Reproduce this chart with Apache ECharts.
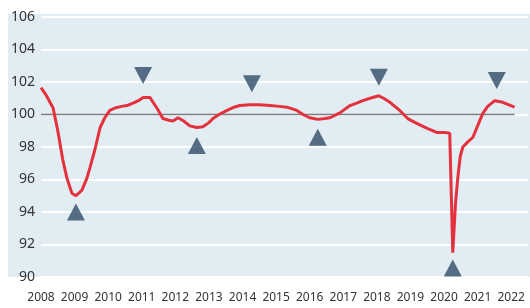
<!DOCTYPE html>
<html><head><meta charset="utf-8">
<script src="https://cdn.jsdelivr.net/npm/echarts@6/dist/echarts.min.js"></script>
<style>html,body{margin:0;padding:0;background:#fff}#c{width:530px;height:308px}</style>
</head><body><div id="c"></div>
<script>
var years = [2008.0,2008.15,2008.36,2008.5,2008.65,2008.77,2008.92,2009.04,2009.22,2009.37,2009.46,2009.6,2009.76,2009.9,2010.05,2010.2,2010.4,2010.56,2010.74,2010.9,2011.04,2011.24,2011.45,2011.63,2011.8,2011.93,2012.08,2012.25,2012.43,2012.64,2012.82,2013.0,2013.12,2013.3,2013.54,2013.75,2013.92,2014.22,2014.5,2014.82,2015.1,2015.32,2015.62,2015.8,2016.0,2016.24,2016.45,2016.6,2016.9,2017.2,2017.4,2017.58,2017.8,2018.06,2018.2,2018.39,2018.68,2018.92,2019.1,2019.34,2019.55,2019.78,2020.0,2020.17,2020.26,2020.34,2020.41,2020.48,2020.56,2020.7,2020.86,2021.0,2021.15,2021.3,2021.51,2021.75,2022.1];
var values = [101.65,101.2,100.4,99.0,97.2,96.1,95.15,95.0,95.35,96.1,96.75,97.8,99.2,99.8,100.25,100.4,100.5,100.55,100.7,100.85,101.05,101.05,100.4,99.75,99.65,99.6,99.8,99.6,99.3,99.2,99.25,99.5,99.75,100.0,100.25,100.45,100.55,100.6,100.6,100.55,100.5,100.45,100.25,100.0,99.8,99.7,99.75,99.8,100.1,100.55,100.7,100.85,101.0,101.15,101.0,100.75,100.25,99.75,99.55,99.3,99.1,98.9,98.9,98.85,91.5,94.5,96.1,97.4,98.0,98.3,98.6,99.3,100.05,100.5,100.85,100.75,100.45];
var troughX = [2009.04,2012.64,2016.24,2020.26];
var troughY = [94.0,98.1,98.6,90.55];
var peakX = [2011.04,2014.28,2018.06,2021.57];
var peakY = [102.4,101.9,102.3,102.1];
var refX = [2008.0,2022.1];
var refY = [100,100];
var yTicks = {min:90,max:106,step:2};
var xTicks = {min:2008,max:2022};

function zip(a,b){return a.map(function(v,i){return [v,b[i]];});}

var chart = echarts.init(document.getElementById('c'));
chart.setOption({
  animation:false,
  graphic:[{type:'rect',left:8,top:14,shape:{width:522,height:263},style:{fill:'#e2ecf3'},z:-10,silent:true}],
  grid:{left:41,right:2,top:17,bottom:31},
  xAxis:{type:'value',min:xTicks.min,max:xTicks.max+0.5,interval:1,
    splitLine:{show:false},axisLine:{show:false},axisTick:{show:false},
    axisLabel:{showMaxLabel:false,margin:15,fontSize:12,color:'#333',fontFamily:'Noto Sans',
      formatter:function(v){return (Math.abs(v-Math.round(v))<1e-6 && v<=xTicks.max)?String(Math.round(v)):'';}}},
  yAxis:{type:'value',min:yTicks.min,max:yTicks.max,interval:yTicks.step,
    axisLine:{show:false},axisTick:{show:false},
    splitLine:{lineStyle:{color:'#ffffff',width:2}},
    axisLabel:{margin:6,fontSize:14,color:'#333',fontFamily:'Noto Sans'}},
  series:[
    {type:'line',data:zip(refX,refY),symbol:'none',lineStyle:{color:'#7d7d7d',width:1.5},z:2},
    {type:'line',data:zip(years,values),symbol:'none',lineStyle:{color:'#e3323e',width:3},z:3},
    {type:'scatter',data:zip(troughX,troughY),symbol:'triangle',symbolSize:[18,17],itemStyle:{color:'#2f4b67'},z:4},
    {type:'scatter',data:zip(peakX,peakY),symbol:'triangle',symbolRotate:180,symbolSize:[18,17],itemStyle:{color:'#2f4b67'},z:4}
  ]
});
</script>
</body></html>
